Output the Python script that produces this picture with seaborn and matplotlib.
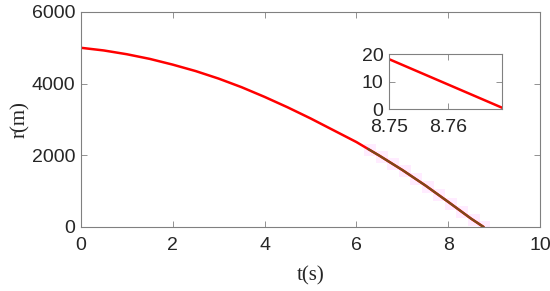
import numpy as np
import pandas as pd
import matplotlib
matplotlib.use("Agg")
import matplotlib.pyplot as plt
import seaborn as sns

# values
t = [0, 0.5, 1, 1.5, 2, 2.5, 3, 3.5, 4, 4.5, 5, 5.5, 6, 6.5, 7, 7.5, 8, 8.5, 8.77]
r = [5000, 4925, 4820, 4690, 4530, 4350, 4140, 3900, 3630, 3340, 3030, 2700, 2370, 1990, 1590, 1160, 700, 230, 0]

t_fit = [6.25, 6.5, 7, 7.5, 8, 8.5, 8.77]
r_fit = [2180, 1990, 1590, 1160, 700, 230, 0]

t_mark = [6.3, 6.55, 6.8, 7.05, 7.3, 7.55, 7.8, 8.05, 8.3, 8.55, 8.77]
r_mark = [2140, 1950, 1750, 1550, 1330, 1110, 880, 650, 420, 190, 0]

t_zoom = [8.75, 8.769]
r_zoom = [18.2, 0.5]

sns.set_style("white")
plt.rcParams["font.family"] = ["Liberation Sans", "DejaVu Sans"]

df = pd.DataFrame({"t": t, "r": r})
df_fit = pd.DataFrame({"t": t_fit, "r": r_fit})
df_zoom = pd.DataFrame({"t": t_zoom, "r": r_zoom})

fig = plt.figure(figsize=(5.5, 2.91), dpi=100)
ax = fig.add_axes([0.147, 0.22, 0.835, 0.739])

ax.plot(t_mark, r_mark, "s", color="#ff66ff", alpha=0.12, markersize=9, markeredgewidth=0)
sns.lineplot(data=df, x="t", y="r", ax=ax, color="#ff0000", linewidth=1.8, sort=False, estimator=None)
sns.lineplot(data=df_fit, x="t", y="r", ax=ax, color="#7a4a1a", linewidth=1.6, sort=False, estimator=None)

ax.set_xlim(0, 10)
ax.set_ylim(0, 6000)
ax.set_xticks([0, 2, 4, 6, 8, 10])
ax.set_yticks([0, 2000, 4000, 6000])
ax.set_xlabel("t(s)", family="Liberation Serif", fontsize=15, color="#262626", labelpad=9)
ax.set_ylabel("r(m)", family="Liberation Serif", fontsize=15, color="#262626", labelpad=1)

axin = fig.add_axes([0.707, 0.625, 0.206, 0.189])
sns.lineplot(data=df_zoom, x="t", y="r", ax=axin, color="#ff0000", linewidth=1.8, sort=False, estimator=None)
axin.set_xlim(8.75, 8.769)
axin.set_ylim(0, 20)
axin.set_xticks([8.75, 8.76])
axin.set_xticklabels(["8.75", "8.76"])
axin.set_yticks([0, 10, 20])
axin.set_xlabel("")
axin.set_ylabel("")

for a in (ax, axin):
    for s in a.spines.values():
        s.set_color("#808080")
        s.set_linewidth(0.8)
    a.tick_params(direction="in", length=4, width=0.6, colors="#808080",
                  labelcolor="#262626", labelsize=14, top=True, right=True,
                  bottom=True, left=True, pad=4)
    a.tick_params(axis="x", pad=7)

fig.savefig("out.png", dpi=100)
